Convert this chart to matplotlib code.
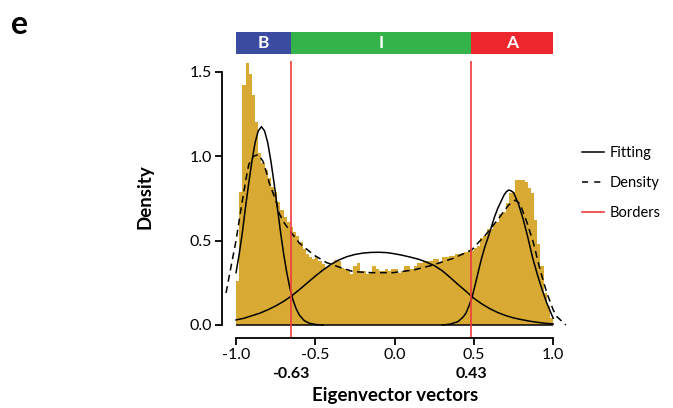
import numpy as np
import matplotlib.pyplot as plt
from matplotlib.patches import Rectangle
from matplotlib.lines import Line2D

plt.rcParams['font.family'] = ['Lato', 'DejaVu Sans']

# histogram of eigenvector values, 100 bins from -1 to 1
hist_heights = [0.26, 0.79, 1.42, 1.55, 1.49, 1.36, 1.20, 1.02, 0.96, 0.92,
                0.87, 0.82, 0.79, 0.73, 0.68, 0.64, 0.61, 0.58, 0.55, 0.53,
                0.49, 0.45, 0.42, 0.40, 0.39, 0.40, 0.38, 0.36, 0.345, 0.35,
                0.37, 0.385, 0.38, 0.34, 0.33, 0.32, 0.30, 0.35, 0.37, 0.32,
                0.32, 0.30, 0.31, 0.35, 0.33, 0.32, 0.32, 0.33, 0.32, 0.33,
                0.33, 0.31, 0.32, 0.35, 0.35, 0.33, 0.35, 0.37, 0.37, 0.375,
                0.38, 0.38, 0.39, 0.39, 0.37, 0.40, 0.405, 0.41, 0.41, 0.42,
                0.42, 0.425, 0.43, 0.44, 0.44, 0.455, 0.47, 0.515, 0.53, 0.57,
                0.57, 0.60, 0.61, 0.66, 0.67, 0.72, 0.78, 0.79, 0.86, 0.86,
                0.86, 0.85, 0.81, 0.78, 0.62, 0.48, 0.35, 0.19, 0.11, 0.04]
bin_edges = np.linspace(-1, 1, len(hist_heights) + 1)

# kernel density (dashed)
dens_x = [-1.063, -1.035, -1.0, -0.97, -0.94, -0.92, -0.89, -0.86, -0.83, -0.81,
          -0.79, -0.75, -0.727, -0.70, -0.65, -0.60, -0.51, -0.43, -0.34, -0.26,
          -0.14, -0.01, 0.12, 0.24, 0.37, 0.487, 0.53, 0.571, 0.613, 0.655,
          0.69, 0.718, 0.76, 0.79, 0.834, 0.876, 0.918, 0.96, 1.0, 1.023, 1.08]
dens_y = [0.19, 0.33, 0.50, 0.68, 0.85, 0.95, 1.0, 1.01, 0.97, 0.91,
          0.84, 0.74, 0.66, 0.61, 0.545, 0.485, 0.415, 0.37, 0.34, 0.316,
          0.31, 0.31, 0.326, 0.355, 0.395, 0.445, 0.49, 0.53, 0.58, 0.63,
          0.675, 0.71, 0.74, 0.72, 0.61, 0.485, 0.325, 0.19, 0.09, 0.05, 0.0]

# fitted components (solid)
fitB_x = [-1.0, -0.98, -0.96, -0.94, -0.92, -0.90, -0.88, -0.86, -0.84, -0.82,
          -0.80, -0.78, -0.76, -0.74, -0.72, -0.70, -0.68, -0.66, -0.64, -0.62,
          -0.60, -0.57, -0.54, -0.50, -0.45]
fitB_y = [0.31, 0.42, 0.55, 0.70, 0.84, 0.97, 1.08, 1.15, 1.175, 1.15,
          1.08, 0.97, 0.84, 0.70, 0.555, 0.423, 0.31, 0.217, 0.146, 0.094,
          0.058, 0.026, 0.011, 0.003, 0.0]
fitI_x = [-1.0, -0.95, -0.9, -0.85, -0.8, -0.75, -0.7, -0.65, -0.6, -0.55,
          -0.5, -0.45, -0.4, -0.35, -0.3, -0.25, -0.2, -0.15, -0.1, -0.05,
          0.0, 0.05, 0.1, 0.15, 0.2, 0.25, 0.3, 0.35, 0.4, 0.45,
          0.5, 0.55, 0.6, 0.65, 0.7, 0.75, 0.8, 0.85, 0.9, 0.95, 1.0]
fitI_y = [0.03, 0.04, 0.055, 0.07, 0.09, 0.113, 0.14, 0.172, 0.21, 0.25,
          0.29, 0.327, 0.36, 0.386, 0.405, 0.418, 0.426, 0.43, 0.431, 0.429,
          0.422, 0.413, 0.402, 0.39, 0.373, 0.352, 0.322, 0.282, 0.24, 0.20,
          0.158, 0.125, 0.097, 0.074, 0.056, 0.042, 0.032, 0.023, 0.016, 0.01, 0.006]
fitA_x = [0.30, 0.35, 0.40, 0.43, 0.45, 0.47, 0.49, 0.51, 0.53, 0.55, 0.57,
          0.59, 0.61, 0.63, 0.65, 0.67, 0.69, 0.705, 0.72, 0.735, 0.75, 0.78,
          0.81, 0.84, 0.87, 0.90, 0.93, 0.96, 0.98, 1.0]
fitA_y = [0.0, 0.005, 0.02, 0.045, 0.07, 0.115, 0.17, 0.245, 0.325, 0.40, 0.465,
          0.52, 0.58, 0.64, 0.69, 0.73, 0.77, 0.79, 0.80, 0.795, 0.785, 0.72,
          0.63, 0.52, 0.40, 0.30, 0.21, 0.13, 0.085, 0.04]

borders = [-0.653, 0.483]
border_labels = ['-0.63', '0.43']
regions = ['B', 'I', 'A']
region_colors = ['#3a4ba0', '#33b34a', '#ee262e']

fig = plt.figure(figsize=(6.73, 4.08), dpi=100)
ax = fig.add_axes([0.33, 0.1716, 0.5155, 0.6936])

ax.bar(bin_edges[:-1], hist_heights, width=np.diff(bin_edges), align='edge',
       color='#d9aa33', linewidth=0)
ax.hlines(0, bin_edges[0], bin_edges[-1], color='black', lw=1.1)
ax.plot(fitB_x, fitB_y, color='black', lw=1.1)
ax.plot(fitI_x, fitI_y, color='black', lw=1.1)
ax.plot(fitA_x, fitA_y, color='black', lw=1.1)
ax.plot(dens_x, dens_y, color='black', lw=1.1, dashes=(4.5, 3))

ax.set_xlim(-1.088, 1.1)
ax.set_ylim(-0.077, 1.6)
for b in borders:
    ax.vlines(b, -0.077, 1.565, color='#ee3b3b', lw=1.2, clip_on=False)

# region bar above the plot
edges = [-1.0] + borders + [1.0]
for i in range(3):
    ax.add_patch(Rectangle((edges[i], 1.607), edges[i + 1] - edges[i], 0.13,
                           color=region_colors[i], clip_on=False, lw=0))
    ax.text((edges[i] + edges[i + 1]) / 2, 1.672, regions[i], color='white',
            fontsize=12.5, fontweight='bold', ha='center', va='center')

for b, lab in zip(borders, border_labels):
    ax.text(b, -0.29, lab, fontsize=11.5, fontweight='bold', ha='center', va='center')

for s in ['top', 'right']:
    ax.spines[s].set_visible(False)
ax.spines['left'].set_bounds(0, 1.5)
ax.spines['bottom'].set_bounds(-1, 1)
ax.spines['left'].set_linewidth(1.3)
ax.spines['bottom'].set_linewidth(1.3)
ax.set_xticks([-1.0, -0.5, 0.0, 0.5, 1.0])
ax.set_yticks([0.0, 0.5, 1.0, 1.5])
ax.set_xticklabels(['-1.0', '-0.5', '0.0', '0.5', '1.0'])
ax.tick_params(labelsize=11.5, length=5, width=1.3, pad=2)

ax.set_xlabel('Eigenvector vectors', fontsize=13.5, fontweight='bold', labelpad=18)
ax.set_ylabel('Density', fontsize=13.5, fontweight='bold', labelpad=26)

handles = [Line2D([], [], color='black', lw=1.1),
           Line2D([], [], color='black', lw=1.1, dashes=(4, 4)),
           Line2D([], [], color='#ee3b3b', lw=1.2)]
fig.legend(handles, ['Fitting', 'Density', 'Borders'], loc='upper left',
           bbox_to_anchor=(0.845, 0.674), frameon=False, fontsize=10.5,
           handlelength=1.5, handletextpad=0.4, labelspacing=1.1)

fig.text(0.016, 0.94, 'e', fontsize=23, fontweight='bold', va='center')

fig.savefig('out.png', dpi=100)
